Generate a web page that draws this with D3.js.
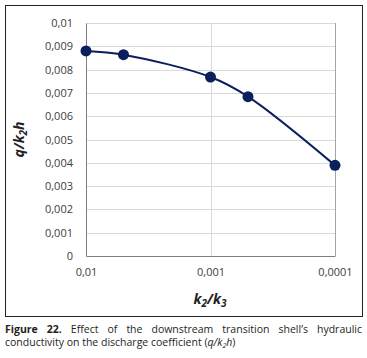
<!DOCTYPE html>
<html>
<head>
<meta charset="utf-8">
<script src="https://cdn.jsdelivr.net/npm/d3@7"></script>
<style>
  body { margin: 0; background: #fff; }
  svg text { font-family: "Open Sans", "Liberation Sans", sans-serif; }
</style>
</head>
<body>
<svg id="chart"></svg>
<script>
// data
const ratios = [0.01, 0.005, 0.001, 0.0005, 0.0001];
const coeffs = [0.0088, 0.00864, 0.00768, 0.00684, 0.00389];
const xTicks = [0.01, 0.001, 0.0001];
const yTicks = [0, 0.001, 0.002, 0.003, 0.004, 0.005, 0.006, 0.007, 0.008, 0.009, 0.01];

const width = 367, height = 358;
const margin = {top: 23, right: 32, bottom: 102, left: 86};
const innerW = width - margin.left - margin.right;
const innerH = height - margin.top - margin.bottom;
const lineColor = "#0b1f5c";

const svg = d3.select("#chart").attr("width", width).attr("height", height);

// outer frame of the figure
svg.append("rect")
    .attr("x", 5.5).attr("y", 5.5)
    .attr("width", 357).attr("height", 311)
    .attr("fill", "none").attr("stroke", "#222").attr("stroke-width", 1);

const chart = svg.append("g")
    .attr("transform", `translate(${margin.left}, ${margin.top})`);

const xscale = d3.scaleLog().domain([0.01, 0.0001]).range([0, innerW]);
const yscale = d3.scaleLinear().domain([0, 0.01]).range([innerH, 0]);

const fmt = d => String(d).replace(".", ",");

// grid
chart.append("g")
    .selectAll("line")
    .data(yTicks.slice(1))
    .join("line")
    .attr("x1", 0).attr("x2", innerW)
    .attr("y1", d => Math.round(yscale(d)) + 0.5)
    .attr("y2", d => Math.round(yscale(d)) + 0.5)
    .attr("stroke", "#d9d9d9");

chart.append("g")
    .selectAll("line")
    .data(xTicks.slice(1))
    .join("line")
    .attr("x1", d => Math.round(xscale(d)) + 0.5)
    .attr("x2", d => Math.round(xscale(d)) + 0.5)
    .attr("y1", 0).attr("y2", innerH)
    .attr("stroke", "#d9d9d9");

// axes
const yaxis = d3.axisLeft(yscale).tickValues(yTicks).tickFormat(fmt).tickSize(0).tickPadding(13);
const xaxis = d3.axisBottom(xscale).tickValues(xTicks).tickFormat(fmt).tickSize(0).tickPadding(12);

const yg = chart.append("g").call(yaxis);
const xg = chart.append("g").attr("transform", `translate(0, ${innerH})`).call(xaxis);
[yg, xg].forEach(g => {
    g.select(".domain").attr("stroke", "#7f7f7f");
    g.selectAll("text").attr("fill", "#404040").style("font-size", "11px");
});

// right border
chart.append("line")
    .attr("x1", innerW + 0.5).attr("x2", innerW + 0.5)
    .attr("y1", 0).attr("y2", innerH)
    .attr("stroke", "#a6a6a6");

// series
const points = ratios.map((r, i) => ({x: r, y: coeffs[i]}));
const line = d3.line()
    .x(d => xscale(d.x))
    .y(d => yscale(d.y))
    .curve(d3.curveCatmullRom.alpha(0.5));

chart.append("path")
    .datum(points)
    .attr("d", line)
    .attr("fill", "none")
    .attr("stroke", lineColor)
    .attr("stroke-width", 2);

chart.append("g")
    .selectAll("circle")
    .data(points)
    .join("circle")
    .attr("cx", d => xscale(d.x))
    .attr("cy", d => yscale(d.y))
    .attr("r", 5.5)
    .attr("fill", lineColor);

// axis titles
const ytitle = svg.append("text")
    .attr("transform", `translate(24, ${margin.top + innerH / 2}) rotate(-90)`)
    .attr("text-anchor", "middle")
    .style("font-size", "14px")
    .style("font-weight", "bold")
    .style("font-style", "italic")
    .attr("fill", "#222");
ytitle.append("tspan").text("q/k");
ytitle.append("tspan").attr("dy", 3).style("font-size", "10px").text("2");
ytitle.append("tspan").attr("dy", -3).text("h");

const xtitle = svg.append("text")
    .attr("x", 210).attr("y", 304)
    .attr("text-anchor", "middle")
    .style("font-size", "14px")
    .style("font-weight", "bold")
    .style("font-style", "italic")
    .attr("fill", "#222");
xtitle.append("tspan").text("k");
xtitle.append("tspan").attr("dy", 3).style("font-size", "10px").text("2");
xtitle.append("tspan").attr("dy", -3).text("/k");
xtitle.append("tspan").attr("dy", 3).style("font-size", "10px").text("3");

// caption, first line justified
const capLeft = 5, capRight = 362;
const words = ["Figure", "22.", "Effect", "of", "the", "downstream", "transition", "shell\u2019s", "hydraulic"];
const cap1 = svg.append("g");
const wnodes = words.map((w, i) => cap1.append("text")
    .attr("y", 333)
    .style("font-size", "10.5px")
    .style("font-weight", i < 2 ? "bold" : "normal")
    .attr("fill", "#231f20")
    .text(w));
const widths = wnodes.map(n => n.node().getComputedTextLength());
const gap = (capRight - capLeft - d3.sum(widths)) / (words.length - 1);
let cx = capLeft;
wnodes.forEach((n, i) => { n.attr("x", cx); cx += widths[i] + gap; });

const cap2 = svg.append("text")
    .attr("x", capLeft).attr("y", 346)
    .style("font-size", "10.5px")
    .attr("fill", "#231f20");
cap2.append("tspan").text("conductivity on the discharge coefficient (");
cap2.append("tspan").style("font-style", "italic").text("q/k");
cap2.append("tspan").style("font-style", "italic").style("font-size", "7px").attr("dy", 2).text("2");
cap2.append("tspan").style("font-style", "italic").attr("dy", -2).text("h");
cap2.append("tspan").text(")");
</script>
</body>
</html>
